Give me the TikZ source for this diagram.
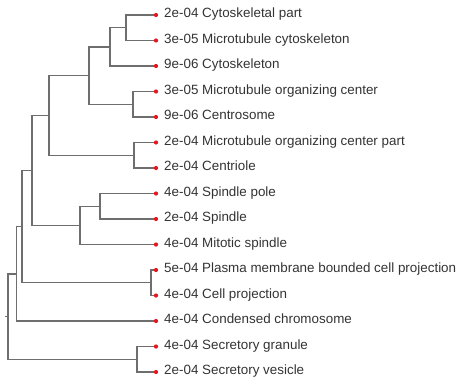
\documentclass[tikz,border=0pt]{standalone}
\usepackage{fontspec}
\setmainfont{Liberation Sans}
\definecolor{edgegray}{HTML}{6E6E6E}
\definecolor{dotred}{HTML}{E8141E}
\definecolor{txtgray}{HTML}{333333}
\begin{document}
\begin{tikzpicture}[x=1pt,y=-1pt,
  edge/.style={draw=edgegray,line width=1.4pt},
  leafdot/.style={circle,fill=dotred,inner sep=0pt,minimum size=4.2pt},
  lbl/.style={anchor=mid west,inner sep=0pt,text=txtgray,font=\fontsize{13.4}{16}\selectfont}]
\useasboundingbox (0,0) rectangle (462,383);
% leaves
\foreach \i/\y in {1/15,2/40.5,3/66,4/91.5,5/117,6/142.5,7/168,8/193.5,9/219,10/244.5,11/270,12/295.5,13/321,14/346.5,15/372}
  \coordinate (l\i) at (156,\y);
% internal nodes
\coordinate (A) at (126,27.75);
\coordinate (B) at (110,46.9);
\coordinate (C) at (133,104.25);
\coordinate (D) at (89,75.6);
\coordinate (E) at (134,155.25);
\coordinate (F) at (49,115.4);
\coordinate (G) at (100,206.25);
\coordinate (H) at (80,225.4);
\coordinate (I) at (32,170.4);
\coordinate (J) at (151,282.75);
\coordinate (K) at (22,226.6);
\coordinate (L) at (16.5,273.8);
\coordinate (M) at (137,359.25);
\coordinate (N) at (8,316.5);
\coordinate (R) at (4.5,316.5);
% edges
\draw[edge] (l1) -| (A) |- (l2);
\draw[edge] (A) -| (B) |- (l3);
\draw[edge] (l4) -| (C) |- (l5);
\draw[edge] (B) -| (D) |- (C);
\draw[edge] (l6) -| (E) |- (l7);
\draw[edge] (D) -| (F) |- (E);
\draw[edge] (l8) -| (G) |- (l9);
\draw[edge] (G) -| (H) |- (l10);
\draw[edge] (F) -| (I) |- (H);
\draw[edge] (l11) -| (J) |- (l12);
\draw[edge] (I) -| (K) |- (J);
\draw[edge] (K) -| (L) |- (l13);
\draw[edge] (l14) -| (M) |- (l15);
\draw[edge] (L) -| (N) |- (M);
\draw[edge] (R) -- (N);
% dots
\foreach \i in {1,...,15} \node[leafdot] (d\i) at (l\i) {};
% labels
\node[lbl] (t1) at (164,15) {2e-04 Cytoskeletal part};
\node[lbl] (t2) at (164,40.5) {3e-05 Microtubule cytoskeleton};
\node[lbl] (t3) at (164,66) {9e-06 Cytoskeleton};
\node[lbl] (t4) at (164,91.5) {3e-05 Microtubule organizing center};
\node[lbl] (t5) at (164,117) {9e-06 Centrosome};
\node[lbl] (t6) at (164,142.5) {2e-04 Microtubule organizing center part};
\node[lbl] (t7) at (164,168) {2e-04 Centriole};
\node[lbl] (t8) at (164,193.5) {4e-04 Spindle pole};
\node[lbl] (t9) at (164,219) {2e-04 Spindle};
\node[lbl] (t10) at (164,244.5) {4e-04 Mitotic spindle};
\node[lbl] (t11) at (164,270) {5e-04 Plasma membrane bounded cell projection};
\node[lbl] (t12) at (164,295.5) {4e-04 Cell projection};
\node[lbl] (t13) at (164,321) {4e-04 Condensed chromosome};
\node[lbl] (t14) at (164,346.5) {4e-04 Secretory granule};
\node[lbl] (t15) at (164,372) {2e-04 Secretory vesicle};
\end{tikzpicture}
\end{document}
